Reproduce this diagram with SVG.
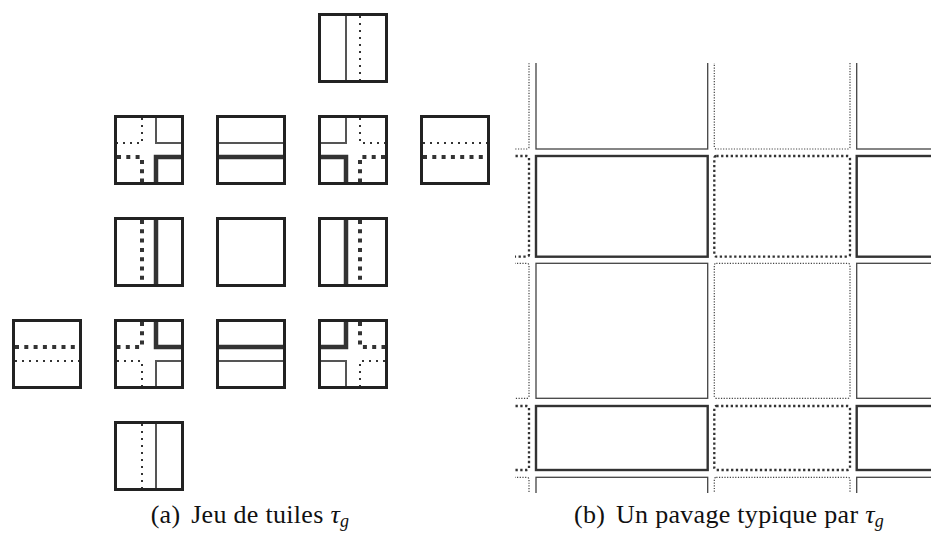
<svg xmlns="http://www.w3.org/2000/svg" width="931" height="534" viewBox="0 0 931 534">
<style>
.frame{fill:none;stroke:#222;stroke-width:3}
.ts{fill:none;stroke:#555;stroke-width:2}
.TS{fill:none;stroke:#333;stroke-width:4.5}
.td{fill:none;stroke:#333;stroke-width:2;stroke-dasharray:2 5}
.TD{fill:none;stroke:#333;stroke-width:4;stroke-dasharray:4 5.3}
.cs{fill:none;stroke:#444;stroke-width:1.3}
.CS{fill:none;stroke:#333;stroke-width:2.4}
.cd{fill:none;stroke:#444;stroke-width:1.2;stroke-dasharray:1.2 1.5}
.CD{fill:none;stroke:#333;stroke-width:2.3;stroke-dasharray:2.3 2.5}
.cap{font-family:"Liberation Serif","DejaVu Serif",serif;font-size:26px;letter-spacing:0.3px;fill:#111}
</style>
<defs>
<rect id="fr" x="1.5" y="1.5" width="67" height="67" class="frame"/>
<clipPath id="clipb"><rect x="515" y="63" width="416" height="430"/></clipPath>
</defs>

<g id="tiles">
<g id="tile-r0c3" transform="translate(318,13)">
<path class="ts" d="M28 3V67"/><path class="td" d="M42 3V67"/><use href="#fr"/>
</g>
<g id="tile-r1c1" transform="translate(114,115)">
<path class="td" d="M28 3V28H3"/><path class="ts" d="M42 3V28H67"/>
<path class="TD" d="M3 42H28V67"/><path class="TS" d="M67 42H42V67"/><use href="#fr"/>
</g>
<g id="tile-r1c2" transform="translate(216,115)">
<path class="ts" d="M3 28H67"/><path class="TS" d="M3 42H67"/><use href="#fr"/>
</g>
<g id="tile-r1c3" transform="translate(318,115)">
<path class="ts" d="M28 3V28H3"/><path class="td" d="M42 3V28H67"/>
<path class="TS" d="M3 42H28V67"/><path class="TD" d="M67 42H42V67"/><use href="#fr"/>
</g>
<g id="tile-r1c4" transform="translate(420,115)">
<path class="td" d="M3 28H67"/><path class="TD" d="M3 42H67"/><use href="#fr"/>
</g>
<g id="tile-r2c1" transform="translate(114,217)">
<path class="TD" d="M28 3V67"/><path class="TS" d="M42 3V67"/><use href="#fr"/>
</g>
<g id="tile-r2c2" transform="translate(216,217)">
<use href="#fr"/>
</g>
<g id="tile-r2c3" transform="translate(318,217)">
<path class="TS" d="M28 3V67"/><path class="TD" d="M42 3V67"/><use href="#fr"/>
</g>
<g id="tile-r3c0" transform="translate(12,319)">
<path class="TD" d="M3 28H67"/><path class="td" d="M3 42H67"/><use href="#fr"/>
</g>
<g id="tile-r3c1" transform="translate(114,319)">
<path class="TD" d="M28 3V28H3"/><path class="TS" d="M42 3V28H67"/>
<path class="td" d="M3 42H28V67"/><path class="ts" d="M67 42H42V67"/><use href="#fr"/>
</g>
<g id="tile-r3c2" transform="translate(216,319)">
<path class="TS" d="M3 28H67"/><path class="ts" d="M3 42H67"/><use href="#fr"/>
</g>
<g id="tile-r3c3" transform="translate(318,319)">
<path class="TS" d="M28 3V28H3"/><path class="TD" d="M42 3V28H67"/>
<path class="ts" d="M3 42H28V67"/><path class="td" d="M67 42H42V67"/><use href="#fr"/>
</g>
<g id="tile-r4c1" transform="translate(114,421)">
<path class="td" d="M28 3V67"/><path class="ts" d="M42 3V67"/><use href="#fr"/>
</g>
</g>

<g id="tiling" clip-path="url(#clipb)">
<g id="col-n">
<rect class="cd" x="393.5" y="20" width="135.5" height="129" rx="2"/>
<rect class="CD" x="393.5" y="156" width="135.5" height="100.7" rx="2"/>
<rect class="cd" x="393.5" y="263.3" width="135.5" height="135" rx="2"/>
<rect class="CD" x="393.5" y="406" width="135.5" height="64" rx="2"/>
<rect class="cd" x="393.5" y="477.3" width="135.5" height="120" rx="2"/>
</g>
<g id="col-a">
<rect class="cs" x="536" y="20" width="171.7" height="129"/>
<rect class="CS" x="536" y="156" width="171.7" height="100.7"/>
<rect class="cs" x="536" y="263.3" width="171.7" height="135"/>
<rect class="CS" x="536" y="406" width="171.7" height="64"/>
<rect class="cs" x="536" y="477.3" width="171.7" height="120"/>
</g>
<g id="col-b">
<rect class="cd" x="714.3" y="20" width="135.7" height="129" rx="2"/>
<rect class="CD" x="714.3" y="156" width="135.7" height="100.7" rx="2"/>
<rect class="cd" x="714.3" y="263.3" width="135.7" height="135" rx="2"/>
<rect class="CD" x="714.3" y="406" width="135.7" height="64" rx="2"/>
<rect class="cd" x="714.3" y="477.3" width="135.7" height="120" rx="2"/>
</g>
<g id="col-c">
<rect class="cs" x="856.7" y="20" width="171.7" height="129"/>
<rect class="CS" x="856.7" y="156" width="171.7" height="100.7"/>
<rect class="cs" x="856.7" y="263.3" width="171.7" height="135"/>
<rect class="CS" x="856.7" y="406" width="171.7" height="64"/>
<rect class="cs" x="856.7" y="477.3" width="171.7" height="120"/>
</g>
</g>

<g id="captions">
<text class="cap" x="250" y="523" text-anchor="middle">(a) <tspan dx="4">Jeu de tuiles </tspan><tspan font-style="italic">τ</tspan><tspan font-style="italic" font-size="18" dy="4">g</tspan></text>
<text class="cap" x="729" y="523" text-anchor="middle">(b) <tspan dx="4">Un pavage typique par </tspan><tspan font-style="italic">τ</tspan><tspan font-style="italic" font-size="18" dy="4">g</tspan></text>
</g>
</svg>
